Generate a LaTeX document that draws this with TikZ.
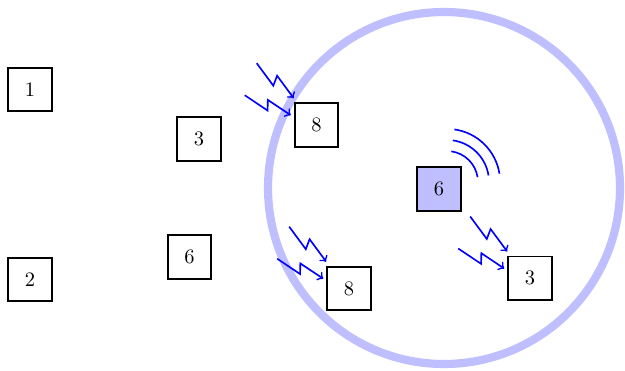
\documentclass[tikz,border=0pt]{standalone}
\usetikzlibrary{calc}
\begin{document}
\begin{tikzpicture}[x=0.4878pt,y=-0.4878pt,
  box/.style={draw, line width=0.9pt, minimum size=0.75cm, inner sep=0pt},
  bolt/.style={blue, thick, ->,
    to path={-- ($(\tikztostart)!0.54!(\tikztotarget)!2.4pt!-90:(\tikztotarget)$)
             -- ($(\tikztostart)!0.46!(\tikztotarget)!2.4pt!90:(\tikztotarget)$)
             -- (\tikztotarget)}},
  wave/.style={blue, thick},
  cover/.style={draw=blue!25, line width=4pt}]
\useasboundingbox (0,0) rectangle (625,370);

% coverage area
\coordinate (cc) at (444,188);
\draw[cover] (cc) circle[radius=85.85pt];

% nodes
\node[box] (n1) at (30,89.5) {1};
\node[box] (n2) at (30,279.5) {2};
\node[box] (n3) at (199,139) {3};
\node[box] (n6) at (189.5,256.7) {6};
\node[box] (a8) at (316.5,125) {8};
\node[box, fill=blue!25] (s6) at (439,189) {6};
\node[box] (b8) at (349,288.5) {8};
\node[box] (r3) at (530,278.3) {3};

% transmission waves from the sender
\coordinate (wc) at (447,182);
\foreach \r in {15.1pt,20.5pt,25.9pt}
  \draw[wave] ([shift={(82:\r)}]wc) arc[start angle=82, end angle=9, radius=\r];

% incoming signals at each receiver
\foreach \t in {a8,b8,r3} {
  \coordinate (\t e1) at ($(\t.north west)+(0,-4)$);
  \coordinate (\t s1) at ($(\t e1)+(-37,-35)$);
  \coordinate (\t e2) at ($(\t.north west)+(-3,13)$);
  \coordinate (\t s2) at ($(\t e2)+(-46,-20)$);
  \draw[bolt] (\t s1) to (\t e1);
  \draw[bolt] (\t s2) to (\t e2);
}
\end{tikzpicture}
\end{document}
